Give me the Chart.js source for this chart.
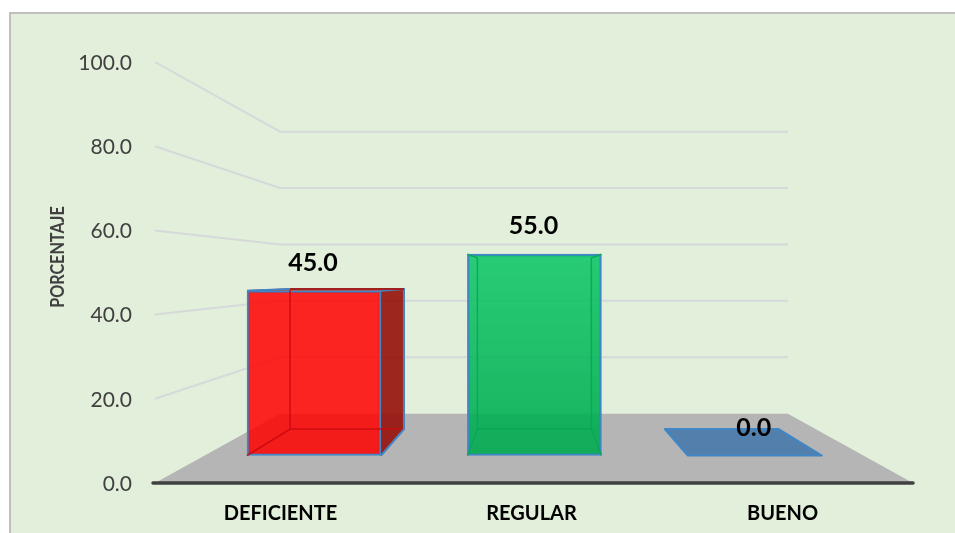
<!DOCTYPE html>
<html><head><meta charset="utf-8">
<style>
html,body{margin:0;padding:0;background:#fff;overflow:hidden}
#frame{position:absolute;left:9px;top:12px;width:946px;height:521px;box-sizing:border-box;background:#E2EFDA;border-top:2px solid #BFBFBF;border-left:2px solid #BFBFBF}
canvas{position:absolute;left:0;top:0}
</style>
<script src="https://cdn.jsdelivr.net/npm/chart.js@4"></script>
</head><body>
<div id="frame"></div>
<canvas id="c" width="955" height="533"></canvas>
<script>
const categories = ["DEFICIENTE", "REGULAR", "BUENO"];
const percentages = [45.0, 55.0, 0.0];
const tickValues = [0, 20, 40, 60, 80, 100];
const axisTitle = "PORCENTAJE";

const frontColors = ["rgba(255,0,0,0.85)", "rgba(0,188,90,0.85)", "rgba(50,110,170,0.75)"];
const sideColors = ["rgba(150,15,10,0.9)", "rgba(0,150,75,0.12)", "rgba(50,110,170,0.75)"];
const innerColors = ["rgba(200,10,15,0.9)", "rgba(10,165,90,0.9)", "rgba(0,0,0,0)"];
const edgeBlue = "#3F87C6";
const FONT = "Lato, Carlito, sans-serif";

// Perspective of the room (walls and floor) and of the box depth
const room = {vx: 534, vy: 273, k: 0.67};
const box = {vx: 534, vy: 279, k: 0.85};
const back = (p, x, y) => [p.vx + p.k * (x - p.vx), p.vy + p.k * (y - p.vy)];

function poly(ctx, pts, fill, stroke, lw) {
  ctx.beginPath();
  pts.forEach((p, i) => i ? ctx.lineTo(p[0], p[1]) : ctx.moveTo(p[0], p[1]));
  ctx.closePath();
  if (fill) { ctx.fillStyle = fill; ctx.fill(); }
  if (stroke) { ctx.strokeStyle = stroke; ctx.lineWidth = lw; ctx.lineJoin = "round"; ctx.stroke(); }
}
function seg(ctx, a, b, color, lw) {
  ctx.beginPath(); ctx.moveTo(a[0], a[1]); ctx.lineTo(b[0], b[1]);
  ctx.strokeStyle = color; ctx.lineWidth = lw; ctx.stroke();
}

const scene = {
  id: "scene",
  beforeDatasetsDraw(chart) {
    const {ctx} = chart, y = chart.scales.y, left = chart.chartArea.left;
    const right = 913, base = y.getPixelForValue(0);
    ctx.save();
    // floor
    poly(ctx, [[left, base], back(room, left, base), back(room, right, base), [right, base]], "#B5B5B5");
    // walls: grid lines follow the y axis ticks
    tickValues.slice(1).forEach(v => {
      const py = y.getPixelForValue(v);
      const a = back(room, left, py), b = back(room, right, py);
      ctx.beginPath(); ctx.moveTo(left, py); ctx.lineTo(a[0], a[1]); ctx.lineTo(b[0], b[1]);
      ctx.strokeStyle = "#D6D9DA"; ctx.lineWidth = 2; ctx.stroke();
    });
    // box faces lying behind the front
    chart.getDatasetMeta(0).data.forEach((el, i) => {
      const x0 = el.x - el.width / 2, x1 = el.x + el.width / 2;
      const ft = el.y, fb = el.base;
      const bl = back(box, x0, fb), br = back(box, x1, fb), tl = back(box, x0, ft), tr = back(box, x1, ft);
      if (percentages[i] === 0) {
        poly(ctx, [[x0, fb], bl, br, [x1, fb]], frontColors[i], edgeBlue, 2);
      } else {
        poly(ctx, [[x1, ft], tr, br, [x1, fb]], sideColors[i]);
        poly(ctx, [[x0, ft], tl, tr, [x1, ft]], sideColors[i]);
      }
    });
    ctx.restore();
  },
  afterDatasetsDraw(chart) {
    const {ctx} = chart, y = chart.scales.y, left = chart.chartArea.left;
    const base = y.getPixelForValue(0);
    ctx.save();
    chart.getDatasetMeta(0).data.forEach((el, i) => {
      const x0 = el.x - el.width / 2, x1 = el.x + el.width / 2;
      const ft = el.y, fb = el.base;
      const bl = back(box, x0, fb), br = back(box, x1, fb), tl = back(box, x0, ft), tr = back(box, x1, ft);
      if (percentages[i] !== 0) {
        const c = innerColors[i];
        seg(ctx, tl, bl, c, 1.5); seg(ctx, tr, br, c, 1.5); seg(ctx, bl, br, c, 1.5);
        seg(ctx, [x0, fb], bl, c, 1.5); seg(ctx, [x1, fb], br, c, 1.5);
        seg(ctx, tl, [x0, ft], c, 1.5); seg(ctx, tr, [x1, ft], c, 1.5);
        if (tr[0] > x1) {
          ctx.beginPath(); ctx.moveTo(x1, ft); ctx.lineTo(tr[0], tr[1]); ctx.lineTo(br[0], br[1]); ctx.lineTo(x1, fb);
          ctx.strokeStyle = edgeBlue; ctx.lineWidth = 2; ctx.stroke();
          seg(ctx, [x0, ft], tl, edgeBlue, 2);
          seg(ctx, tl, tr, "#A02020", 2);
        }
      }
      // value label
      ctx.fillStyle = "#000";
      ctx.font = "bold 25px " + FONT;
      ctx.textAlign = "center"; ctx.textBaseline = "middle";
      ctx.fillText(percentages[i].toFixed(1), el.x - 1, el.y - 28);
    });
    // category axis line
    ctx.lineCap = "round";
    seg(ctx, [left - 2, base], [913, base], "#404040", 3.5);
    // value axis title
    ctx.translate(58, 257);
    ctx.rotate(-Math.PI / 2);
    ctx.scale(0.85, 1);
    ctx.fillStyle = "#404040";
    ctx.font = "bold 19px " + FONT;
    ctx.textAlign = "center"; ctx.textBaseline = "middle";
    ctx.fillText(axisTitle, 0, 0);
    ctx.restore();
  }
};

function frontFill(c) {
  if (c.type !== "data" || c.dataIndex !== 1) return frontColors[c.dataIndex];
  const yb = c.chart.scales.yBox;
  const g = c.chart.ctx.createLinearGradient(0, yb.getPixelForValue(percentages[1]), 0, yb.getPixelForValue(0));
  g.addColorStop(0, "rgba(8,198,100,0.85)");
  g.addColorStop(1, "rgba(0,170,80,0.9)");
  return g;
}

new Chart(document.getElementById("c"), {
  type: "bar",
  data: {
    labels: categories,
    datasets: [{
      data: percentages.map((v, i) => ({x: i, y: v})),
      xAxisID: "xBox", yAxisID: "yBox",
      backgroundColor: frontFill,
      borderColor: percentages.map(v => v === 0 ? "rgba(0,0,0,0)" : edgeBlue),
      borderWidth: 2,
      borderSkipped: false,
      barThickness: 134
    }]
  },
  options: {
    responsive: false,
    animation: false,
    events: [],
    layout: {padding: {left: 0, top: 62, right: 47, bottom: 0}},
    plugins: {legend: {display: false}, tooltip: {enabled: false}, title: {display: false}},
    scales: {
      x: {
        type: "category", offset: true, position: "bottom",
        grid: {display: false, drawTicks: false}, border: {display: false},
        ticks: {color: "#000", padding: 19, maxRotation: 0, autoSkip: false, font: {family: FONT, size: 20, weight: "bold"}},
        afterFit: s => { s.height = 50; }
      },
      y: {
        type: "linear", position: "left", min: 0, max: 100,
        grid: {display: false, drawTicks: false}, border: {display: false},
        afterBuildTicks: s => { s.ticks = tickValues.map(v => ({value: v})); },
        ticks: {color: "#404040", padding: 23, labelOffset: 1, font: {family: FONT, size: 21}, callback: v => Number(v).toFixed(1)},
        afterFit: s => { s.width = 155; }
      },
      // box front plane sits nearer the viewer than the axis plane
      xBox: {type: "linear", offset: false, display: false, position: "bottom", min: -0.7214, max: 2.695},
      yBox: {type: "linear", display: false, position: "left", min: -7.51, max: 107.5}
    }
  },
  plugins: [scene]
});
</script>
</body></html>
